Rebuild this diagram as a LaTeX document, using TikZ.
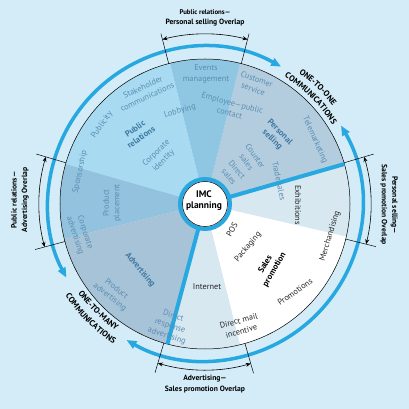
\documentclass[tikz,border=0pt]{standalone}
\usepackage{fontspec}
\setmainfont{PT Sans}
\usetikzlibrary{arrows.meta,decorations.text}
\definecolor{bg}{HTML}{D3ECF8}
\definecolor{prc}{HTML}{A8DBF2}
\definecolor{evc}{HTML}{8FC7E3}
\definecolor{psc}{HTML}{B3CDDE}
\definecolor{lpc}{HTML}{92C2DD}
\definecolor{adc}{HTML}{A7C3D8}
\definecolor{ovc}{HTML}{D7E8F1}
\definecolor{cyanb}{HTML}{28A8E0}
\definecolor{itemc}{HTML}{5A8DB2}
\definecolor{catc}{HTML}{3F79A3}
\tikzset{
 item/.style={font=\fontsize{8.3}{10.5}\selectfont, text=itemc, align=center, inner sep=0pt},
 spitem/.style={item, text=black!85},
 cat/.style={font=\bfseries\fontsize{8.5}{10.5}\selectfont, text=catc, align=center, inner sep=0pt},
 spcat/.style={cat, text=black},
 bluebar/.style={cyanb, line width=4pt},
 bluearc/.style={cyanb, line width=3.5pt, {Triangle[length=10pt,width=8pt]}-{Triangle[length=10pt,width=8pt]}},
 ovarrow/.style={black, line width=0.6pt, {Stealth[length=5pt,width=4pt]}-{Stealth[length=5pt,width=4pt]}},
 tickline/.style={black, line width=0.5pt},
 ovlabel/.style={font=\bfseries\fontsize{7.6}{10.5}\selectfont, align=center, inner sep=0pt},
 commtext/.style={decorate, decoration={text along path, text align=center, text={|\bfseries\fontsize{8.3}{9}\selectfont|#1}}},
}
\begin{document}
\begin{tikzpicture}[x=1pt,y=1pt]
\useasboundingbox (-205,-205) rectangle (204,204);
\fill[bg] (-205,-205) rectangle (204,204);
% sectors
\fill[ovc] (0,0) -- (-13:145) arc[start angle=-13, end angle=16, radius=145pt] -- cycle;
\fill[psc] (0,0) -- (16:145) arc[start angle=16, end angle=76, radius=145pt] -- cycle;
\fill[evc] (0,0) -- (76:145) arc[start angle=76, end angle=104, radius=145pt] -- cycle;
\fill[prc] (0,0) -- (104:145) arc[start angle=104, end angle=164, radius=145pt] -- cycle;
\fill[lpc] (0,0) -- (164:145) arc[start angle=164, end angle=194, radius=145pt] -- cycle;
\fill[adc] (0,0) -- (194:145) arc[start angle=194, end angle=255, radius=145pt] -- cycle;
\fill[ovc] (0,0) -- (255:145) arc[start angle=255, end angle=284, radius=145pt] -- cycle;
\fill[white] (0,0) -- (284:145) arc[start angle=284, end angle=347, radius=145pt] -- cycle;
\draw[black, line width=0.5pt] (0,0) circle[radius=145pt];
% thick dividers
\coordinate (c) at (0,0);
\coordinate (d1) at (16:145);
\coordinate (d2) at (255:145);
\draw[bluebar] (c) -- (d1);
\draw[bluebar] (c) -- (d2);
% center
\draw[cyanb, line width=4pt] (c) circle[radius=25pt];
\node[circle, fill=white, draw=black, line width=0.5pt, minimum size=45pt, inner sep=0pt] (imc) at (c) {};
\node[font=\bfseries\fontsize{9.5}{11}\selectfont, align=center] (imct) at (-1,3) {IMC\\planning};
% outer blue arcs
\draw[bluearc] (61:157) arc[start angle=61, end angle=208, radius=157pt];
\draw[bluearc] (30:157) arc[start angle=30, end angle=-120, radius=157pt];
% communications labels
\path[commtext={ONE-TO-ONE}] (74:161) arc[start angle=74, end angle=18, radius=161pt];
\path[commtext={COMMUNICATIONS}] (74:150) arc[start angle=74, end angle=16, radius=150pt];
\path[commtext={ONE-TO-MANY}] (196:155) arc[start angle=196, end angle=254, radius=155pt];
\path[commtext={COMMUNICATIONS}] (196:167) arc[start angle=196, end angle=254, radius=167pt];
% overlap markers
\foreach \a in {104.5,75.5,16.5,-14,163.5,195,253.5,286}{\draw[tickline] (\a:145) -- (\a:176);}
\draw[ovarrow] (104.5:170) arc[start angle=104.5, end angle=75.5, radius=170pt];
\draw[ovarrow] (16.5:166) arc[start angle=16.5, end angle=-14, radius=166pt];
\draw[ovarrow] (163.5:166) arc[start angle=163.5, end angle=195, radius=166pt];
\draw[ovarrow] (253.5:166) arc[start angle=253.5, end angle=286, radius=166pt];
\node[ovlabel] (ovt) at (0,186) {{\fontsize{6.8}{8}\selectfont Public relations—}\\Personal selling Overlap};
\node[ovlabel] (ovb) at (0,-180) {Advertising—\\Sales promotion Overlap};
\node[ovlabel, rotate=-90] (ovr) at (184,-1) {Personal selling—\\Sales promotion Overlap};
\node[ovlabel, rotate=90] (ovl) at (-185,4) {Public relations—\\Advertising Overlap};
% PR items
\node[item] (t1) at (1,130) {Events\\management};
\node[item, rotate=25] (t2) at (-60,112) {Stakeholder\\communications};
\node[item, rotate=15] (t3) at (-25,93) {Lobbying};
\node[item, rotate=55] (t4) at (-103,79) {Publicity};
\node[cat, rotate=35] (t5) at (-67,71) {Public\\relations};
\node[item, rotate=45] (t6) at (-45,47) {Corporate\\identity};
\node[item, rotate=78] (t7) at (-125,32) {Sponsorship};
\node[item, rotate=90] (t8) at (-93,1) {Product\\placement};
\node[item, rotate=-72] (t9) at (-125,-30) {Corporate\\advertising};
\node[cat, rotate=-50] (t10) at (-65,-66) {Advertising};
\node[item, rotate=-38] (t11) at (-92,-89) {Product\\advertising};
\node[item, rotate=-18] (t12) at (-35,-122) {Direct\\response\\advertising};
% PS items
\node[item, rotate=-20] (t13) at (50,120) {Customer\\service};
\node[item, rotate=-15] (t14) at (26,96) {Employee—public\\contact};
\node[cat, rotate=-45] (t15) at (71,68) {Personal\\selling};
\node[item, rotate=-66] (t16) at (110,64) {Telemarketing};
\node[item, rotate=-55] (t17) at (46,45) {Counter\\sales};
\node[item, rotate=-50] (t18) at (28,31) {Direct\\sales};
\node[item, rotate=-78] (t19) at (74,23) {Trade sales};
% SP items
\node[spitem, rotate=-90] (t20) at (93,-1) {Exhibitions};
\node[spitem, rotate=73] (t21) at (125,-32) {Merchandising};
\node[spitem, rotate=60] (t22) at (27,-26) {POS};
\node[spitem, rotate=50] (t23) at (43,-43) {Packaging};
\node[spcat, rotate=60] (t24) at (65,-63) {Sales\\promotion};
\node[spitem, rotate=35] (t25) at (90,-88) {Promotions};
\node[spitem] (t26) at (2,-83) {Internet};
\node[spitem, rotate=15] (t27) at (35,-122) {Direct mail\\incentive};
\end{tikzpicture}
\end{document}
